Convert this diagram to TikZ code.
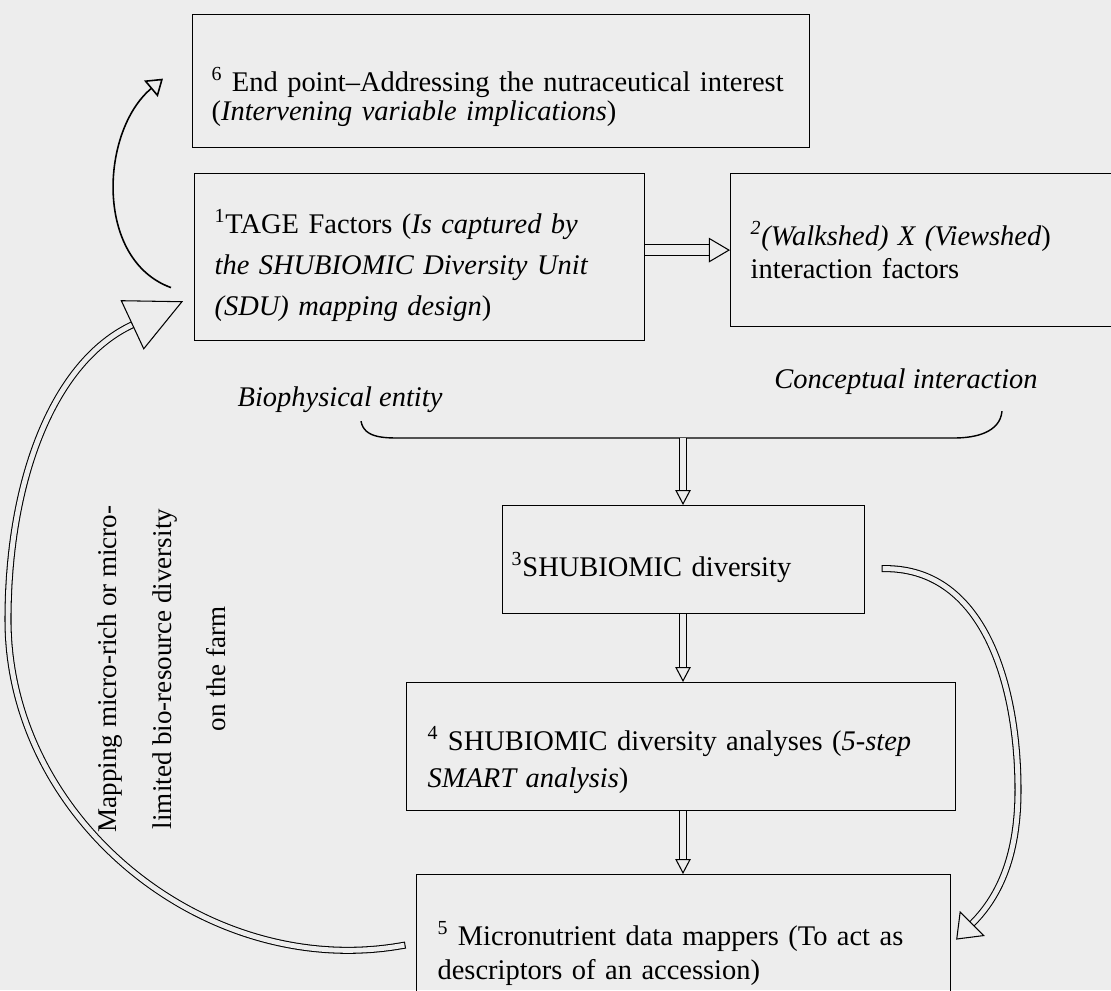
\documentclass[tikz,border=0pt]{standalone}
\usepackage{fontspec}
\setmainfont{Liberation Serif}
\usetikzlibrary{arrows.meta,positioning,calc}
\definecolor{paper}{gray}{0.93}
\newcommand{\lift}[1]{\rule{0pt}{#1}}

\begin{document}
\begin{tikzpicture}[x=0.02cm, y=0.02cm, font=\fontsize{16.2}{21}\selectfont,
  box/.style n args={3}{draw, line width=0.7pt, anchor=north west, inner sep=0pt,
    align=left, minimum width=#1, minimum height=#2, text width=#3},
  fat/.style n args={3}{double=paper, double distance=#1, line width=0.6pt,
    -{Triangle[length=#2, width=#3, fill=paper]}},
  link/.style={line width=0.8pt}]
  % page
  \useasboundingbox (0,0) rectangle (1111,-990);
  \fill[paper] (0,0) rectangle (1111,-990);
  \clip (0,0) rectangle (1111,-990);
  % boxes
  \node (b6) [box={12.34cm}{2.66cm}{11.58cm}, font=\fontsize{16.2}{16.5}\selectfont] at (192,-14)
    {\lift{32pt}\textsuperscript{6} End point--Addressing the nutraceutical interest\\
     (\textit{Intervening variable implications})};
  \node (b1) [box={9cm}{3.34cm}{8.2cm}, font=\fontsize{16.2}{23.3}\selectfont] at (194,-173)
    {\lift{23pt}\textsuperscript{1}TAGE Factors (\textit{Is captured by}\\
     \textit{the SHUBIOMIC Diversity Unit}\\
     \textit{(SDU) mapping design})};
  \node (b2) [box={8.4cm}{3.06cm}{7.6cm}, font=\fontsize{16.2}{19}\selectfont] at (730,-173)
    {\textit{\textsuperscript{2}(Walkshed) X (Viewshed})\\ interaction factors};
  \node (b3) [box={7.24cm}{2.16cm}{6.88cm}] at (502,-505)
    {\lift{22.5pt}\textsuperscript{3}SHUBIOMIC diversity};
  \node (b4) [box={10.98cm}{2.56cm}{10.14cm}] at (406,-682)
    {\lift{29pt}\textsuperscript{4} SHUBIOMIC diversity analyses (\textit{5-step}\\
     \textit{SMART analysis})};
  \node (b5) [box={10.68cm}{3cm}{9.84cm}, font=\fontsize{16.2}{19.5}\selectfont] at (416,-874)
    {\lift{18pt}\textsuperscript{5} Micronutrient data mappers (To act as\\
     descriptors of an accession)};
  % labels
  \node (bio) at (340,-400) {\textit{Biophysical entity}};
  \node (concept) at (906,-382) {\textit{Conceptual interaction}};
  \node (mapnote) [rotate=90, align=center, font=\fontsize{15.4}{31}\selectfont]
    at (162,-669) {Mapping micro-rich or micro-\\ limited bio-resource diversity\\ on the farm};
  % brace joining the two labels
  \coordinate (brace) at (683,-438);
  \draw[link] ([xshift=0.42cm,yshift=-0.04cm]bio.south) to[out=-80,in=180] (404,-438)
    -- (954,-438) to[out=0,in=-95] ([xshift=1.92cm,yshift=-0.2cm]concept.south);
  % straight block arrows
  \draw[fat={5.6pt}{12pt}{14pt}] (b1.east |- b2.west) -- (b2.west);
  \draw[fat={3.4pt}{8.5pt}{8.8pt}] (brace) -- (brace |- b3.north);
  \foreach \a/\b in {b3/b4, b4/b5}
    \draw[fat={3.4pt}{8.5pt}{8.8pt}] (\a.south -| brace) -- (\b.north -| brace);
  % curved arrows
  \draw[line width=0.9pt, -{Triangle[open, length=9pt, width=12pt]}]
    ([xshift=-0.46cm,yshift=-0.61cm]b1.west) to[out=160,in=-140]
    ([xshift=-0.58cm,yshift=0.05cm]b6.west);
  \draw[fat={2.8pt}{32pt}{31pt}, line cap=rect]
    ([xshift=-0.28cm,yshift=0.08cm]b5.west) to[out=190,in=-90] (8,-620)
    to[out=90,in=205] ([xshift=-0.22cm,yshift=0.8cm]b1.south west);
  \draw[fat={2.8pt}{13pt}{20pt}, line cap=rect]
    ([xshift=0.4cm,yshift=-0.18cm]b3.east) to[out=0,in=90] (1018,-790)
    to[out=-90,in=45] ([xshift=0.1cm,yshift=0.2cm]b5.east);
\end{tikzpicture}
\end{document}
